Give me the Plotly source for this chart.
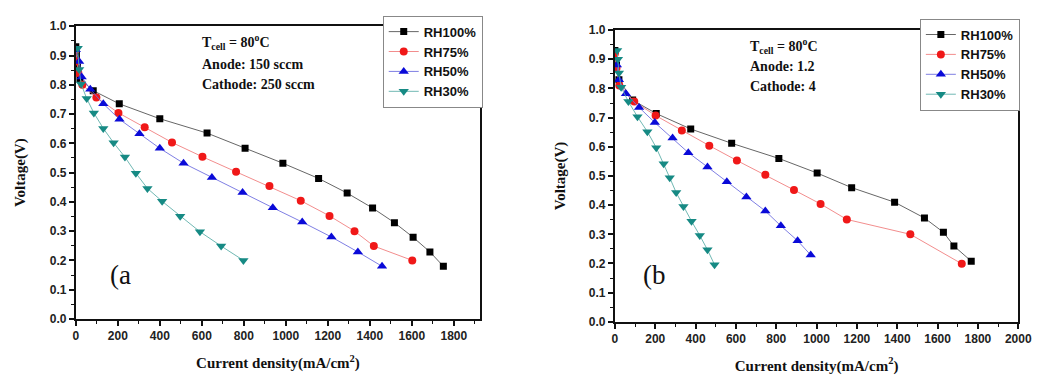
import plotly.graph_objects as go

# ---------- Data: panel (a) ----------
a_rh100_x = [0, 3, 8, 20, 83, 207, 400, 625, 806, 986, 1156, 1292, 1413, 1517, 1606, 1686, 1750]
a_rh100_y = [0.93, 0.90, 0.86, 0.82, 0.78, 0.735, 0.684, 0.635, 0.583, 0.532, 0.48, 0.43, 0.379, 0.329, 0.279, 0.229, 0.18]
a_rh75_x = [0, 5, 12, 31, 98, 203, 328, 458, 603, 763, 922, 1071, 1208, 1327, 1419, 1602]
a_rh75_y = [0.92, 0.88, 0.84, 0.80, 0.757, 0.704, 0.655, 0.603, 0.554, 0.503, 0.454, 0.404, 0.352, 0.30, 0.249, 0.20]
a_rh50_x = [0, 16, 28, 69, 131, 208, 303, 400, 513, 648, 794, 938, 1078, 1217, 1343, 1458]
a_rh50_y = [0.92, 0.88, 0.827, 0.785, 0.735, 0.682, 0.633, 0.583, 0.532, 0.483, 0.432, 0.38, 0.331, 0.28, 0.229, 0.18]
a_rh30_x = [9, 16, 25, 52, 86, 131, 180, 234, 286, 341, 411, 497, 591, 692, 798]
a_rh30_y = [0.925, 0.852, 0.803, 0.753, 0.704, 0.651, 0.602, 0.553, 0.498, 0.446, 0.402, 0.351, 0.298, 0.249, 0.20]

# ---------- Data: panel (b) ----------
b_rh100_x = [0, 8, 20, 88, 205, 376, 579, 813, 1003, 1174, 1387, 1535, 1629, 1681, 1767]
b_rh100_y = [0.93, 0.88, 0.83, 0.76, 0.714, 0.661, 0.612, 0.56, 0.51, 0.46, 0.41, 0.356, 0.307, 0.26, 0.208]
b_rh75_x = [0, 8, 22, 96, 202, 332, 468, 605, 746, 888, 1020, 1150, 1465, 1720]
b_rh75_y = [0.92, 0.87, 0.81, 0.755, 0.707, 0.656, 0.604, 0.553, 0.504, 0.452, 0.404, 0.351, 0.30, 0.199]
b_rh50_x = [10, 20, 55, 120, 198, 286, 364, 459, 555, 652, 746, 823, 906, 971]
b_rh50_y = [0.88, 0.83, 0.782, 0.735, 0.683, 0.63, 0.58, 0.531, 0.48, 0.428, 0.38, 0.329, 0.278, 0.229]
b_rh30_x = [11, 15, 20, 31, 67, 112, 161, 205, 242, 272, 304, 340, 380, 421, 459, 494]
b_rh30_y = [0.93, 0.90, 0.853, 0.804, 0.755, 0.703, 0.652, 0.597, 0.542, 0.494, 0.443, 0.395, 0.345, 0.296, 0.247, 0.196]

series_names = ["RH100%", "RH75%", "RH50%", "RH30%"]
marker_colors = ["#000000", "#f01818", "#0a0ad8", "#168a84"]
line_colors = ["#555555", "#f08080", "#7070e0", "#60b0aa"]
symbols = ["square", "circle", "triangle-up", "triangle-down"]
sizes = [7, 8, 9, 9]

fig = go.Figure()

panels = [
    ([a_rh100_x, a_rh75_x, a_rh50_x, a_rh30_x], [a_rh100_y, a_rh75_y, a_rh50_y, a_rh30_y], "x", "y", "legend"),
    ([b_rh100_x, b_rh75_x, b_rh50_x, b_rh30_x], [b_rh100_y, b_rh75_y, b_rh50_y, b_rh30_y], "x2", "y2", "legend2"),
]
for xs, ys, xa, ya, lg in panels:
    for i in range(4):
        fig.add_trace(go.Scatter(
            x=xs[i], y=ys[i], mode="lines+markers", name=series_names[i],
            xaxis=xa, yaxis=ya, legend=lg,
            line=dict(color=line_colors[i], width=0.9),
            marker=dict(symbol=symbols[i], size=sizes[i], color=marker_colors[i], line=dict(width=0)),
        ))

W, H = 1046, 376
tickfont = dict(family="Liberation Sans", size=12, color="#222222", weight="bold")
titlefont = dict(family="Liberation Serif", size=15, color="#111111", weight="bold")

def xaxis_cfg(rng, dtick, dom):
    return dict(range=rng, domain=dom, dtick=dtick, tick0=0, showgrid=False, zeroline=False,
                showline=True, linecolor="#111111", linewidth=2, mirror=True,
                ticks="outside", ticklen=5, tickwidth=1.5, tickcolor="#111111",
                minor=dict(ticks="outside", ticklen=3, dtick=dtick / 2, tickcolor="#111111", tickwidth=1),
                tickfont=tickfont,
                title=dict(text="Current density(mA/cm<sup>2</sup>)", font=titlefont, standoff=15))

def yaxis_cfg(dom, anchor):
    return dict(range=[0, 1.0], domain=dom, dtick=0.1, tick0=0, tickformat=".1f", showgrid=False, zeroline=False,
                showline=True, linecolor="#111111", linewidth=2, mirror=True, anchor=anchor,
                ticks="outside", ticklen=5, tickwidth=1.5, tickcolor="#111111",
                minor=dict(ticks="outside", ticklen=3, dtick=0.05, tickcolor="#111111", tickwidth=1),
                tickfont=tickfont,
                title=dict(text="Voltage(V)", font=titlefont, standoff=20))

legend_font = dict(family="Liberation Sans", size=13, color="#111111", weight="bold")
fig.update_layout(
    width=W, height=H,
    margin=dict(l=0, r=0, t=0, b=0),
    paper_bgcolor="white", plot_bgcolor="white",
    xaxis=xaxis_cfg([0, 1925], 200, [74 / W, 485 / W]) | dict(anchor="y"),
    yaxis=yaxis_cfg([1 - 324 / H, 1 - 20 / H], "x"),
    xaxis2=xaxis_cfg([0, 2000], 200, [622 / W, 1032 / W]) | dict(anchor="y2"),
    yaxis2=yaxis_cfg([1 - 327 / H, 1 - 24 / H], "x2"),
    legend=dict(x=386 / W, y=1 - 9 / H, xanchor="left", yanchor="top",
                bordercolor="#888888", borderwidth=1, bgcolor="white",
                font=legend_font, tracegroupgap=0, itemwidth=30),
    legend2=dict(x=932 / W, y=1 - 12 / H, xanchor="left", yanchor="top",
                 bordercolor="#888888", borderwidth=1, bgcolor="white",
                 font=legend_font, tracegroupgap=0, itemwidth=30),
    showlegend=True,
)

ann_font = dict(family="Liberation Serif", size=14, color="#111111", weight="bold")
annos = [
    (200, 36, "T<sub>cell</sub> = 80<sup>o</sup>C"),
    (200, 60, "Anode: 150 sccm"),
    (200, 81, "Cathode: 250 sccm"),
    (757, 40, "T<sub>cell</sub> = 80<sup>o</sup>C"),
    (757, 62, "Anode: 1.2"),
    (757, 83, "Cathode: 4"),
]
for px, py, txt in annos:
    fig.add_annotation(x=px / W, y=1 - py / H, xref="paper", yref="paper", text=txt,
                       showarrow=False, xanchor="left", yanchor="middle", font=ann_font)

for px, txt in [(107, "(a"), (649, "(b")]:
    fig.add_annotation(x=px / W, y=1 - 278 / H, xref="paper", yref="paper", text=txt,
                       showarrow=False, xanchor="left", yanchor="middle",
                       font=dict(family="Liberation Serif", size=27, color="#111111"))

fig.write_html("out.html")
